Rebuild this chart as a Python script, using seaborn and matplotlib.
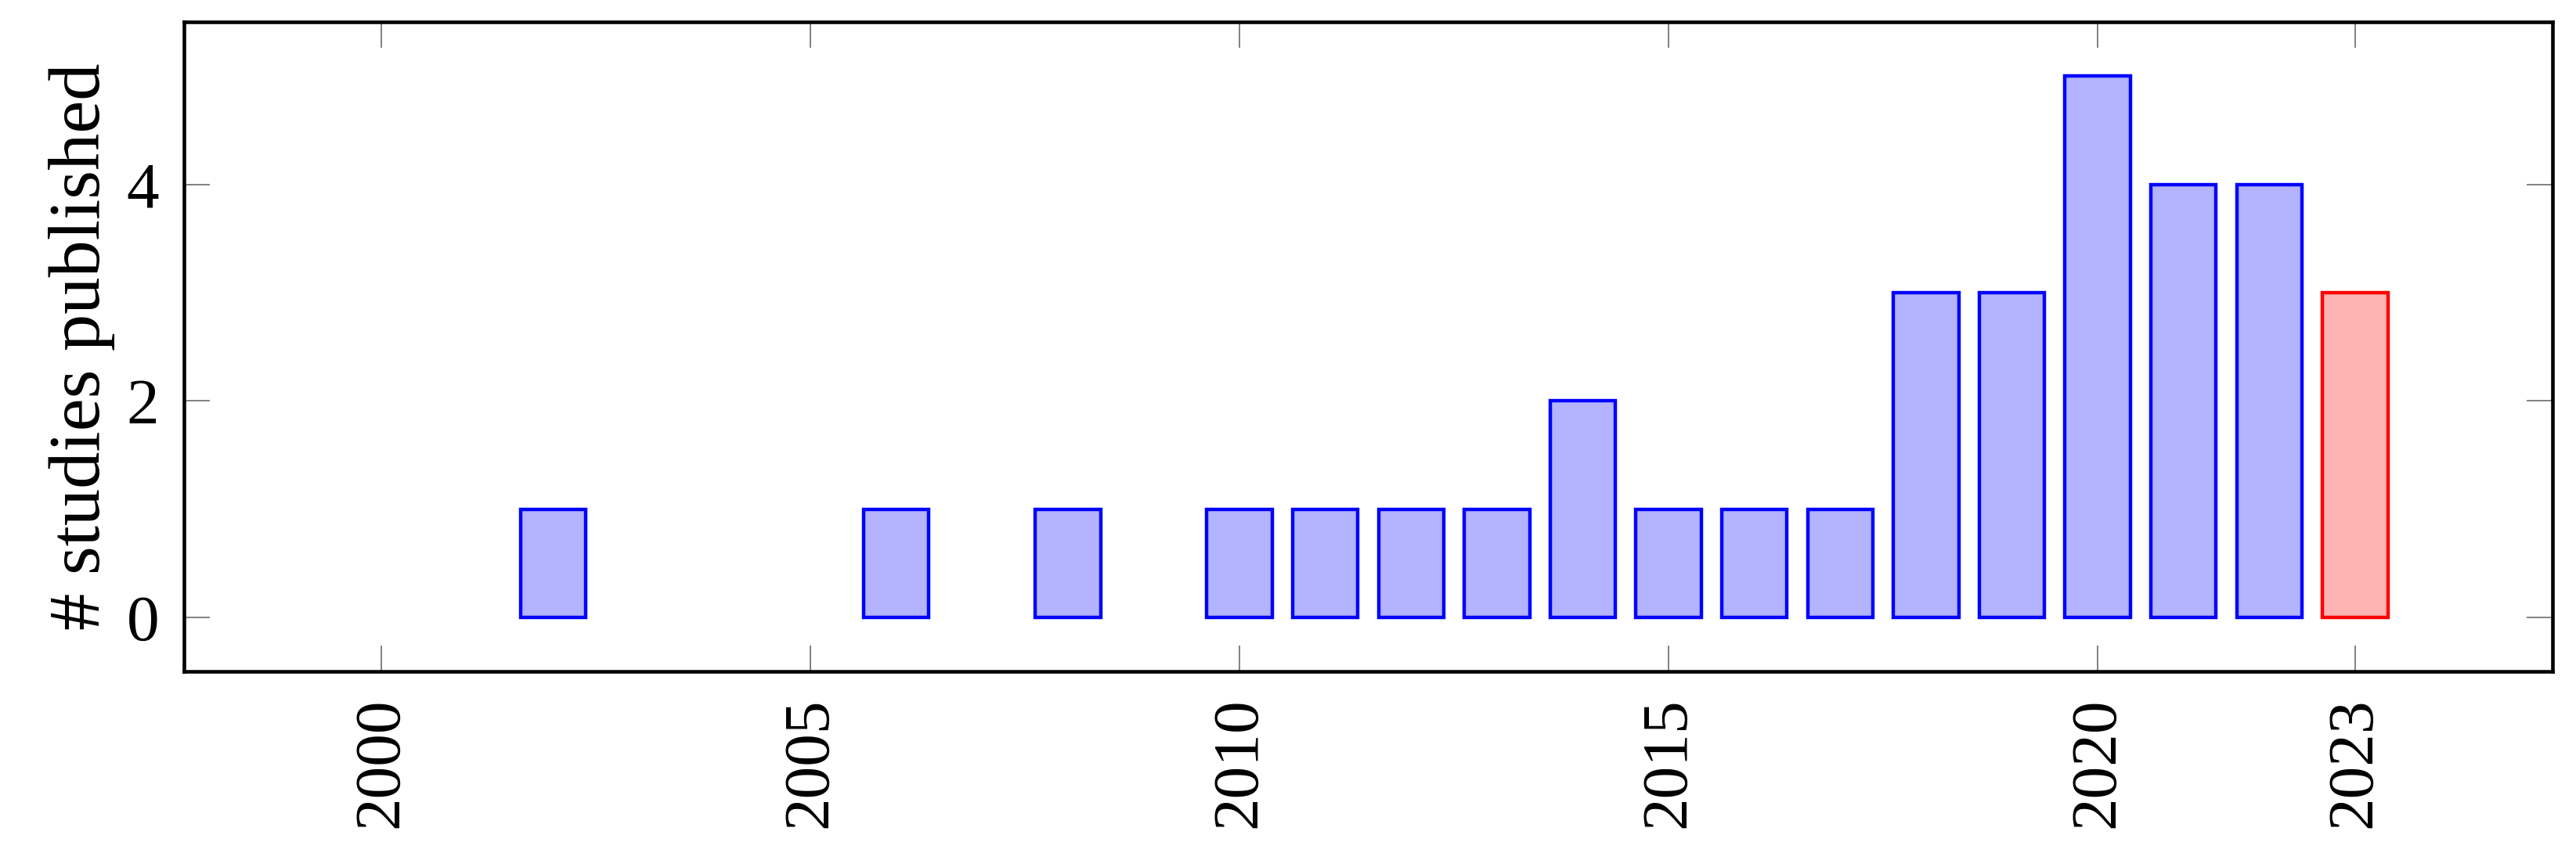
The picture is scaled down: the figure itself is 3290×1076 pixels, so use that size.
import matplotlib
matplotlib.use("Agg")
import matplotlib.pyplot as plt
import seaborn as sns
import pandas as pd

# ---- data ----
years_past = [2002, 2006, 2008, 2010, 2011, 2012, 2013, 2014, 2015, 2016, 2017, 2018, 2019, 2020, 2021, 2022]
counts_past = [1, 1, 1, 1, 1, 1, 1, 2, 1, 1, 1, 3, 3, 5, 4, 4]
years_current = [2023]
counts_current = [3]
x_ticks = [2000, 2005, 2010, 2015, 2020, 2023]
y_ticks = [0, 2, 4]
y_label = "# studies published"

sns.set_theme(style="white")
plt.rcParams['font.family'] = ['Liberation Serif', 'DejaVu Serif']
plt.rcParams['text.color'] = 'black'
plt.rcParams['axes.labelcolor'] = 'black'
plt.rcParams['xtick.labelcolor'] = 'black'
plt.rcParams['ytick.labelcolor'] = 'black'

fig = plt.figure(figsize=(32.9, 10.76), dpi=100)
ax = fig.add_axes([235/3290, 1 - 858/1076, (3260-235)/3290, (858-28)/1076])

df_past = pd.DataFrame({"year": years_past, "count": counts_past})
df_cur = pd.DataFrame({"year": years_current, "count": counts_current})

sns.barplot(data=df_past, x="year", y="count", native_scale=True, width=0.76,
            color="#b3b3ff", edgecolor="#0000ff", linewidth=3.2, saturation=1, ax=ax)
sns.barplot(data=df_cur, x="year", y="count", native_scale=True, width=0.76,
            color="#ffb3b3", edgecolor="#ff0000", linewidth=3.2, saturation=1, ax=ax)

ax.set_xlim(1997.7, 2025.3)
ax.set_ylim(-0.5, 5.5)
ax.set_xticks(x_ticks)
ax.set_xticklabels([str(t) for t in x_ticks], rotation=90)
ax.set_yticks(y_ticks)
ax.set_yticklabels([str(t) for t in y_ticks])
ax.set_xlabel("")
ax.set_ylabel(y_label, fontsize=68, color="black")
ax.yaxis.set_label_coords(-0.029, 0.5)

ax.tick_params(axis="both", which="major", direction="in", length=24, width=1.4,
               color="#808080", labelcolor="black", labelsize=60,
               top=True, right=True, bottom=True, left=True)
ax.tick_params(axis="x", pad=24)
ax.tick_params(axis="y", pad=23)

for s in ax.spines.values():
    s.set_visible(True)
    s.set_color("black")
    s.set_linewidth(3.3)

ax.grid(False)
fig.savefig("out.png", dpi=100)
